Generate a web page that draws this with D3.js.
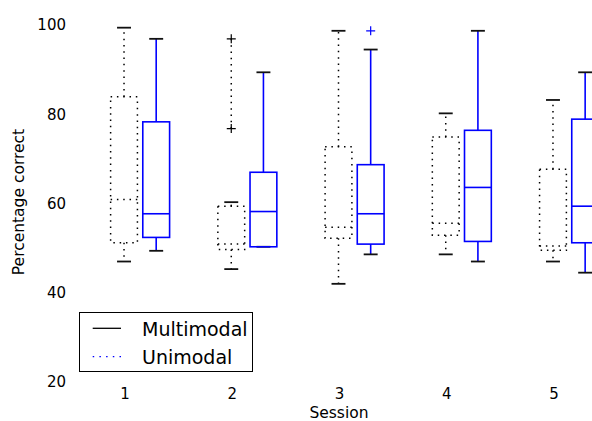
<!DOCTYPE html>
<html>
<head>
<meta charset="utf-8">
<script src="https://cdn.jsdelivr.net/npm/d3@7"></script>
<style>
  html, body { margin: 0; padding: 0; background: #fff; }
  svg { display: block; font-family: "DejaVu Sans", sans-serif; }
</style>
</head>
<body>
<svg id="chart" width="592" height="421"></svg>
<script>
// Box plot statistics per session (percentage correct)
const sessions = [1, 2, 3, 4, 5];
const yTicks = [20, 40, 60, 80, 100];

// Multimodal condition (black, dotted)
const multiLow    = [47.0, 45.3, 42.0, 48.6, 47.0];
const multiQ1     = [51.2, 49.7, 52.2, 52.9, 49.5];
const multiMedian = [60.9, 50.9, 54.7, 55.6, 50.5];
const multiQ3     = [83.9, 59.4, 72.7, 74.9, 67.7];
const multiHigh   = [99.4, 60.3, 98.7, 80.2, 83.2];
const multiFliers = [[], [96.9, 76.8], [], [], []];

// Unimodal condition (blue, solid)
const uniLow    = [49.4, 50.3, 48.6, 47.0, 44.5];
const uniQ1     = [52.4, 50.3, 50.9, 51.5, 51.2];
const uniMedian = [57.7, 58.2, 57.7, 63.6, 59.4];
const uniQ3     = [78.3, 67.0, 68.7, 76.4, 78.9];
const uniHigh   = [96.9, 89.4, 94.5, 98.7, 89.4];
const uniFliers = [[], [], [98.7], [], []];

const svg = d3.select("#chart");

const x = d3.scaleLinear().domain([0.5, 5.5]).range([70.4, 606.6]);
const y = d3.scaleLinear().domain([20, 100]).range([382, 25]);

const boxW = 0.25, capW = 0.13, offset = 0.3;
const dotted = "1.5,4.8";

function buildGroup(low, q1, med, q3, high, fliers, shift) {
  return sessions.map((s, i) => ({
    pos: s + shift, low: low[i], q1: q1[i], med: med[i], q3: q3[i], high: high[i], fliers: fliers[i]
  }));
}

const groups = [
  { data: buildGroup(multiLow, multiQ1, multiMedian, multiQ3, multiHigh, multiFliers, 0),
    color: "#000", dash: dotted, width: 1.5 },
  { data: buildGroup(uniLow, uniQ1, uniMedian, uniQ3, uniHigh, uniFliers, offset),
    color: "#0000ff", dash: null, width: 1.6 }
];

const plot = svg.append("g");

groups.forEach(g => {
  const sel = plot.selectAll(null).data(g.data).enter().append("g");
  const styleLine = s => s.attr("stroke", g.color).attr("stroke-width", g.width)
    .attr("stroke-dasharray", g.dash).attr("fill", "none");

  // whiskers
  sel.append("line").call(styleLine)
    .attr("x1", d => x(d.pos)).attr("x2", d => x(d.pos))
    .attr("y1", d => y(d.q3)).attr("y2", d => y(d.high));
  sel.append("line").call(styleLine)
    .attr("x1", d => x(d.pos)).attr("x2", d => x(d.pos))
    .attr("y1", d => y(d.q1)).attr("y2", d => y(d.low));

  // caps
  ["low", "high"].forEach(k => {
    sel.append("line")
      .attr("stroke", "#111").attr("stroke-width", 1.8)
      .attr("x1", d => x(d.pos - capW / 2)).attr("x2", d => x(d.pos + capW / 2))
      .attr("y1", d => y(d[k])).attr("y2", d => y(d[k]));
  });

  // box
  sel.append("rect").call(styleLine)
    .attr("x", d => x(d.pos - boxW / 2))
    .attr("width", d => x(d.pos + boxW / 2) - x(d.pos - boxW / 2))
    .attr("y", d => y(d.q3))
    .attr("height", d => y(d.q1) - y(d.q3));

  // median
  sel.append("line").call(styleLine)
    .attr("x1", d => x(d.pos - boxW / 2)).attr("x2", d => x(d.pos + boxW / 2))
    .attr("y1", d => y(d.med)).attr("y2", d => y(d.med));

  // fliers, joined by a dotted line
  sel.filter(d => d.fliers.length > 1).append("path")
    .attr("fill", "none").attr("stroke", g.color).attr("stroke-width", 1.5)
    .attr("stroke-dasharray", dotted)
    .attr("d", d => d3.line()(d.fliers.map(v => [x(d.pos), y(v)])));
  sel.each(function(d) {
    const fg = d3.select(this);
    d.fliers.forEach(v => {
      const cx = x(d.pos), cy = y(v), r = 4.5;
      fg.append("path")
        .attr("stroke", g.color).attr("stroke-width", 1.2).attr("fill", "none")
        .attr("d", `M${cx - r},${cy}H${cx + r}M${cx},${cy - r}V${cy + r}`);
    });
  });
});

// y tick labels
svg.append("g").selectAll("text").data(yTicks).enter().append("text")
  .attr("x", 66).attr("y", d => y(d)).attr("dy", "0.36em")
  .attr("text-anchor", "end").attr("font-size", 15).attr("fill", "#000")
  .text(d => d);

// x tick labels
svg.append("g").selectAll("text").data(sessions).enter().append("text")
  .attr("x", d => x(d) + 1).attr("y", 399)
  .attr("text-anchor", "middle").attr("font-size", 15).attr("fill", "#000")
  .text(d => d);

// axis titles
svg.append("text").attr("x", 339).attr("y", 418).attr("text-anchor", "middle")
  .attr("font-size", 15.5).text("Session");
svg.append("text").attr("transform", "translate(24,202) rotate(-90)")
  .attr("text-anchor", "middle").attr("font-size", 15.5).text("Percentage correct");

// legend
const legend = svg.append("g");
legend.append("rect").attr("x", 79.5).attr("y", 312.5).attr("width", 173).attr("height", 59)
  .attr("fill", "#fff").attr("stroke", "#000").attr("stroke-width", 1);
const legendItems = [
  { label: "Multimodal", color: "#000", dash: null, y: 328.3 },
  { label: "Unimodal", color: "#0000ff", dash: "1.5,5.2", y: 356.7 }
];
legendItems.forEach(it => {
  legend.append("line").attr("x1", 92.7).attr("x2", 121).attr("y1", it.y).attr("y2", it.y)
    .attr("stroke", it.color).attr("stroke-width", 1.3).attr("stroke-dasharray", it.dash);
  legend.append("text").attr("x", 142).attr("y", it.y + 7.2).attr("font-size", 19)
    .attr("fill", "#000").text(it.label);
});
</script>
</body>
</html>
